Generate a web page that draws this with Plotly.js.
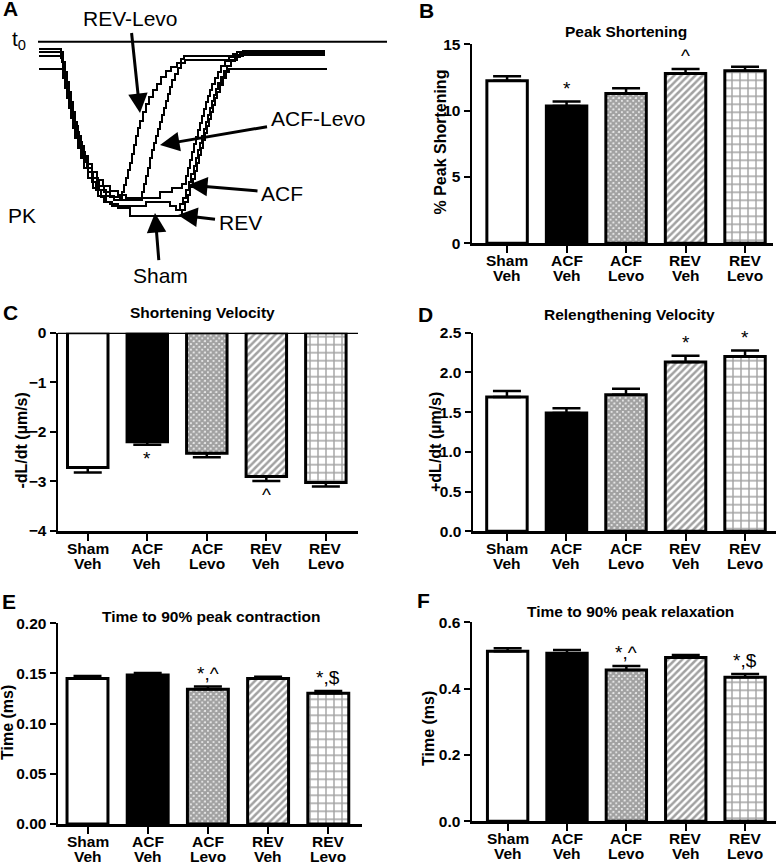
<!DOCTYPE html>
<html><head><meta charset="utf-8">
<script src="https://cdn.plot.ly/plotly-3.0.1.min.js"></script>
<style>html,body{margin:0;padding:0;background:#fff}#chart{width:777px;height:863px}</style>
</head><body><div id="chart"></div>
<script>
// ---------- Bar panel data ----------
const groupLabels = ['Sham', 'ACF', 'ACF', 'REV', 'REV'];
const treatLabels = ['Veh', 'Veh', 'Levo', 'Veh', 'Levo'];
const categories = groupLabels.map((g, i) => g + ' ' + treatLabels[i]);

const peakShortMean = [12.25, 10.35, 11.3, 12.8, 13.0];
const peakShortSem  = [0.35, 0.33, 0.38, 0.34, 0.30];
const peakShortSig  = ['', '*', '', '^', ''];

const shortVelMean = [-2.72, -2.20, -2.43, -2.90, -3.02];
const shortVelSem  = [0.10, 0.06, 0.08, 0.09, 0.08];
const shortVelSig  = ['', '*', '', '^', ''];

const relenVelMean = [1.69, 1.49, 1.72, 2.13, 2.20];
const relenVelSem  = [0.075, 0.06, 0.075, 0.08, 0.075];
const relenVelSig  = ['', '', '', '*', '*'];

const ttpMean = [0.1449, 0.1485, 0.1342, 0.1449, 0.1302];
const ttpSem  = [0.0026, 0.0020, 0.0027, 0.0019, 0.0024];
const ttpSig  = ['', '', '*,^', '', '*,$'];

const ttrMean = [0.5126, 0.5065, 0.4563, 0.4935, 0.434];
const ttrSem  = [0.009, 0.010, 0.012, 0.008, 0.010];
const ttrSig  = ['', '', '*,^', '', '*,$'];

// ---------- Panel A: representative sarcomere shortening traces ----------
const t0Time  = [38, 387];
const t0Level = [41.7, 41.7];

const revLevoTime = [39,59,61,63,65,67,69,71,73,75,77,80,83,87,92,98,104,110,120,122,124,126,128,130,132,134,136,138,140,143,146,149,153,157,161,166,171,177,181,184,240,243,325];
const revLevoLen  = [49,49,58,68,78,88,98,108,118,128,138,148,158,168,178,186,192,197,198,192,185,178,170,163,154,145,136,128,121,112,104,97,90,84,77,71,67,63,59,56,56,53,53];

const acfLevoTime = [39,60,62,64,66,68,70,72,74,76,78,81,84,88,93,99,106,114,140,142,144,146,148,150,152,154,156,158,160,162,164,166,168,170,172,175,178,181,185,235,237,325];
const acfLevoLen  = [52,52,62,72,82,92,102,112,122,132,142,152,162,172,182,190,196,200,200,192,184,176,168,158,150,143,136,129,122,115,108,101,94,87,80,74,68,63,60,60,55,55];

const acfTime = [39,61,63,65,67,69,71,73,75,78,81,84,88,92,97,103,110,118,126,150,160,172,182,186,188,190,192,194,196,198,200,202,204,206,208,210,212,215,218,221,225,229,233,237,325];
const acfLen  = [56,56,66,76,86,96,106,116,126,136,146,156,164,172,180,186,191,195,198,198,192,188,184,176,168,160,152,144,137,130,123,116,109,102,96,90,84,78,72,66,61,57,54,52,52];

const revTime = [39,60,63,65,67,69,71,73,75,77,79,82,85,88,92,96,101,106,112,140,146,160,170,176,180,183,186,189,191,194,196,198,200,202,204,206,208,210,212,214,216,218,221,224,227,231,235,240,243,325];
const revLen  = [52,52,62,72,82,92,102,112,122,132,142,152,162,172,182,190,197,202,206,206,202,202,206,210,204,198,190,182,174,166,158,150,143,136,129,122,115,108,101,95,89,83,77,71,66,61,57,54,51,51];

const shamTime = [39,61,63,65,67,69,71,73,75,78,81,84,88,93,98,104,110,118,126,130,178,182,185,188,190,193,195,197,199,201,203,205,207,209,211,213,215,217,220,223,226,229,327];
const shamLen  = [69,69,78,88,98,108,118,128,138,148,158,168,178,188,196,202,204,208,208,216,216,210,202,195,187,179,171,163,155,148,140,133,126,119,112,105,98,92,85,78,72,69,69];

const traceSets = [
  {name:'REV-Levo', t:revLevoTime, L:revLevoLen},
  {name:'ACF-Levo', t:acfLevoTime, L:acfLevoLen},
  {name:'ACF', t:acfTime, L:acfLen},
  {name:'REV', t:revTime, L:revLen},
  {name:'Sham', t:shamTime, L:shamLen}
];

// ---------- Styling ----------
const FONT = 'Arial, "Liberation Sans", Helvetica, sans-serif';
const barColors = ['white','black','white','white','white'];
const patShapes = ['', '', 'x', '/', '+'];
const patSizes  = [8, 8, 4, 5, 8];
const patSolid  = [0.3, 0.3, 0.85, 0.5, 0.32];

const W = 777, H = 863;
const px = v => v / W;
const py = v => 1 - v / H;

const panels = [
  {id:'', mean:peakShortMean, sem:peakShortSem, sig:peakShortSig, down:false,
   xpx:[472,773], ypx:[44.3,243.3], range:[0,15], tickvals:[0,5,10,15], fmt:'d', xr:[-0.59,4.47],
   title:'Peak Shortening', tpos:[626,32], ytitle:'% Peak Shortening', ytpos:[440,142.5], label:'B', lpos:[426,10]},
  {id:'2', mean:shortVelMean, sem:shortVelSem, sig:shortVelSig, down:true,
   xpx:[58,358], ypx:[332.7,531], range:[-4,0], tickvals:[-4,-3,-2,-1,0], fmt:'d', xr:[-0.5,4.54],
   title:'Shortening Velocity', tpos:[202,312.5], ytitle:'-dL/dt (µm/s)', ytpos:[21.5,441], label:'C', lpos:[10,312]},
  {id:'3', mean:relenVelMean, sem:relenVelSem, sig:relenVelSig, down:false,
   xpx:[473,776], ypx:[332.7,531.3], range:[0,2.5], tickvals:[0,0.5,1,1.5,2,2.5], fmt:'.1f', xr:[-0.57,4.52],
   title:'Relengthening Velocity', tpos:[629,315], ytitle:'+dL/dt (µm/s)', ytpos:[435,442], label:'D', lpos:[425,314]},
  {id:'4', mean:ttpMean, sem:ttpSem, sig:ttpSig, down:false,
   xpx:[58,362], ypx:[623.3,824], range:[0,0.2], tickvals:[0,0.05,0.1,0.15,0.2], fmt:'.2f', xr:[-0.49,4.56],
   title:'Time to 90% peak contraction', tpos:[212,616.5], ytitle:'Time (ms)', ytpos:[7,723], label:'E', lpos:[9,601]},
  {id:'5', mean:ttrMean, sem:ttrSem, sig:ttrSig, down:false,
   xpx:[472,776], ypx:[622.3,821.3], range:[0,0.6], tickvals:[0,0.2,0.4,0.6], fmt:'.1f', xr:[-0.6,4.52],
   title:'Time to 90% peak relaxation', tpos:[630,611.5], ytitle:'Time (ms)', ytpos:[428,729], label:'F', lpos:[424,600]}
];

const data = [];
const layout = {
  width: W, height: H, margin:{l:0,r:0,t:0,b:0},
  paper_bgcolor:'white', plot_bgcolor:'rgba(0,0,0,0)',
  showlegend:false, font:{family:FONT, color:'black'},
  annotations:[], shapes:[]
};
const boldTick = {family:FONT, size:15.5, weight:'bold', color:'black'};

panels.forEach(p => {
  const xa = 'x' + p.id, ya = 'y' + p.id;
  const zeros = p.sem.map(() => 0);
  data.push({
    type:'bar', x:categories, y:p.mean, xaxis:xa, yaxis:ya, width:0.68,
    marker:{color:barColors, line:{color:'black', width:3},
      pattern:{shape:patShapes, size:patSizes, solidity:patSolid, fgcolor:'black', bgcolor:'white', fillmode:'overlay'}},
    error_y:{type:'data', symmetric:false, array: p.down ? zeros : p.sem, arrayminus: p.down ? p.sem : zeros,
      color:'black', thickness:2.5, width:14},
    hoverinfo:'skip'
  });
  const xk = 'xaxis' + p.id, yk = 'yaxis' + p.id;
  layout[xk] = {domain:[px(p.xpx[0]), px(p.xpx[1])], anchor:ya, type:'category', range:p.xr,
    showline:true, linecolor:'black', linewidth:2.5, ticks:'outside', ticklen:7, tickwidth:2, tickcolor:'black',
    showticklabels:false, showgrid:false, zeroline:false, fixedrange:true};
  layout[yk] = {domain:[py(p.ypx[1]), py(p.ypx[0])], anchor:xa, range:p.range, tickvals:p.tickvals, tickformat:p.fmt,
    showline:true, linecolor:'black', linewidth:2.5, ticks:'outside', ticklen:6, tickwidth:2, tickcolor:'black',
    tickfont:boldTick, showgrid:false, zeroline:false, fixedrange:true};
  if (p.down) {
    layout.shapes.push({type:'line', xref:xa+' domain', x0:0, x1:1, yref:ya, y0:0, y1:0, line:{color:'black', width:2.5}});
  }
  // two-line category labels
  categories.forEach((c, i) => {
    layout.annotations.push({xref:xa, yref:ya+' domain', x:c, y:0, yshift:-17, xanchor:'center', yanchor:'middle',
      text:groupLabels[i], showarrow:false, font:boldTick, borderpad:0});
    layout.annotations.push({xref:xa, yref:ya+' domain', x:c, y:0, yshift:-32.3, xanchor:'center', yanchor:'middle',
      text:treatLabels[i], showarrow:false, font:boldTick, borderpad:0});
  });
  // titles and labels
  layout.annotations.push({xref:'paper', yref:'paper', x:px(p.tpos[0]), y:py(p.tpos[1]), xanchor:'center', yanchor:'middle',
    text:p.title, showarrow:false, font:{family:FONT, size:15.5, weight:'bold', color:'black'}});
  layout.annotations.push({xref:'paper', yref:'paper', x:px(p.ytpos[0]), y:py(p.ytpos[1]), xanchor:'center', yanchor:'middle',
    text:p.ytitle, textangle:-90, showarrow:false, font:{family:FONT, size:16, weight:'bold', color:'black'}});
  layout.annotations.push({xref:'paper', yref:'paper', x:px(p.lpos[0]), y:py(p.lpos[1]), xanchor:'center', yanchor:'middle',
    text:p.label, showarrow:false, font:{family:FONT, size:21, weight:'bold', color:'black'}});
  // significance markers
  p.sig.forEach((s, i) => {
    if (!s) return;
    const yv = p.down ? p.mean[i] - p.sem[i] : p.mean[i] + p.sem[i];
    layout.annotations.push({xref:xa, yref:ya, x:categories[i], y:yv, xanchor:'center',
      yanchor: p.down ? 'top' : 'bottom', yshift: p.down ? -1 : 1, text:s, showarrow:false,
      font:{family:FONT, size:19, color:'black'}});
  });
});

// Panel A
layout.xaxis6 = {domain:[0, px(390)], anchor:'y6', range:[0,390], visible:false, fixedrange:true};
layout.yaxis6 = {domain:[py(290), 1], anchor:'x6', range:[290,0], visible:false, fixedrange:true};
data.push({type:'scatter', mode:'lines', x:t0Time, y:t0Level, xaxis:'x6', yaxis:'y6',
  line:{color:'black', width:2}, hoverinfo:'skip'});
traceSets.forEach(tr => {
  data.push({type:'scatter', mode:'lines', x:tr.t, y:tr.L, xaxis:'x6', yaxis:'y6', name:tr.name,
    line:{color:'black', width:2, shape:'hv'}, hoverinfo:'skip'});
});
const arrowFont = {family:FONT, size:21, color:'black'};
const arrows = [
  {text:'REV-Levo', ax:130, ay:18, x:140, y:113},
  {text:'ACF-Levo', ax:318, ay:118, x:160, y:145},
  {text:'ACF', ax:282, ay:193, x:188, y:185},
  {text:'REV', ax:240, ay:222, x:178, y:215},
  {text:'Sham', ax:160, ay:275, x:155, y:213}
];
arrows.forEach(a => {
  layout.annotations.push({xref:'x6', yref:'y6', axref:'x6', ayref:'y6', x:a.x, y:a.y, ax:a.ax, ay:a.ay,
    text:a.text, showarrow:true, arrowhead:2, arrowsize:1.3, arrowwidth:3, arrowcolor:'black',
    font:arrowFont, standoff:0, startstandoff:2});
});
layout.annotations.push({xref:'x6', yref:'y6', x:22, y:215, text:'PK', showarrow:false, font:arrowFont});
layout.annotations.push({xref:'x6', yref:'y6', x:19, y:40, text:'t<sub>0</sub>', showarrow:false, font:arrowFont});
layout.annotations.push({xref:'paper', yref:'paper', x:px(10), y:py(9), xanchor:'center', yanchor:'middle',
  text:'A', showarrow:false, font:{family:FONT, size:21, weight:'bold', color:'black'}});

Plotly.newPlot('chart', data, layout, {staticPlot:true, displayModeBar:false});
</script>
</body></html>
